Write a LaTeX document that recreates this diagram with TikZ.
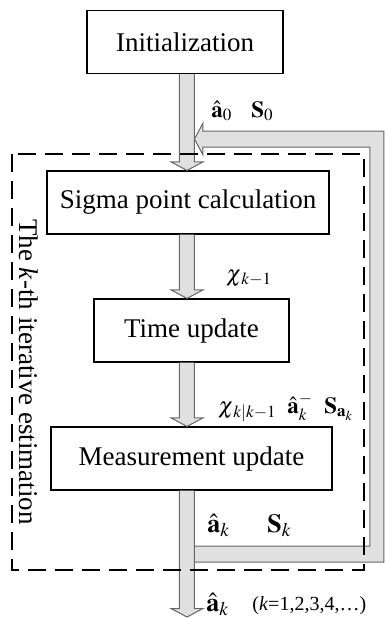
\documentclass[tikz,border=0pt]{standalone}
\usepackage{mathptmx}
\usepackage{fontspec}
\setmainfont{Liberation Serif}
\usetikzlibrary{calc}

% wide grey block arrow, open at its start
\newcommand{\fatarrow}[2]{%
  \path[fat] ($(#1)+(-7.5,0)$) -- ($(#2)+(-7.5,-8.5)$) -- ($(#2)+(-16,-8.5)$)
    -- (#2) -- ($(#2)+(16,-8.5)$) -- ($(#2)+(7.5,-8.5)$) -- ($(#1)+(7.5,0)$);}

\begin{document}
\begin{tikzpicture}[x=0.5pt,y=-0.5pt,
  stepbox/.style={draw,line width=0.6pt,inner sep=0pt,minimum height=31.5pt,font=\fontsize{13.5}{16}\selectfont},
  fat/.style={fill=black!12,draw=black!60,line width=0.5pt},
  lbl/.style={anchor=base west,inner sep=0pt,font=\fontsize{11.5}{14}\selectfont},
  biglbl/.style={lbl,font=\fontsize{13}{15}\selectfont},
  iterbox/.style={draw,dash pattern=on 9pt off 4.5pt,line width=1.2pt}]

\useasboundingbox (0,0) rectangle (385,618);

\node[stepbox,minimum width=98pt] (init) at (185,42) {Initialization};
\node[stepbox,minimum width=141pt] (sigma) at (188,202.5) {Sigma point calculation};
\node[stepbox,minimum width=97.5pt] (tupd) at (191.5,330.5) {Time update};
\node[stepbox,minimum width=140.5pt] (mupd) at (191.5,458.5) {Measurement update};

\coordinate (axis) at (187,0);
\coordinate (a1) at (init.south -| axis);
\coordinate (b1) at (sigma.north -| axis);
\coordinate (a2) at (sigma.south -| axis);
\coordinate (b2) at (tupd.north -| axis);
\coordinate (a3) at (tupd.south -| axis);
\coordinate (b3) at (mupd.north -| axis);
\coordinate (a4) at (mupd.south -| axis);
\coordinate (est) at (187,617);

% feedback band back to the top
\path[fat] (194.5,546) -- (370,546) -- (370,147) -- (203,147) -- (203,155)
  -- (194.5,139) -- (203,123) -- (203,131) -- (384,131) -- (384,562) -- (194.5,562);

\fatarrow{a1}{b1}
\fatarrow{a2}{b2}
\fatarrow{a3}{b3}
\fatarrow{a4}{est}

\node[lbl] (a0) at (211,117) {$\hat{\mathbf{a}}_0$};
\node[lbl] (S0) at (251,117) {$\mathbf{S}_0$};
\node[lbl] (chi1) at (226,281) {$\chi_{\,k-1}$};
\node[lbl] (chi2) at (218,413) {$\chi_{\,k|k-1}$};
\node[lbl] (apri) at (287,413) {$\hat{\mathbf{a}}_k^-$};
\node[lbl] (Spri) at (324,413) {$\mathbf{S}_{\mathbf{a}_k}$};
\node[biglbl] (apost) at (207,532) {$\hat{\mathbf{a}}_k$};
\node[biglbl] (Spost) at (267,532) {$\mathbf{S}_k$};
\node[biglbl] (aout) at (206,611) {$\hat{\mathbf{a}}_k$};
\node[lbl,font=\fontsize{10}{12}\selectfont] (range) at (252,610) {(\textit{k}=1,2,3,4,\ldots)};

\node[font=\fontsize{13.5}{16}\selectfont,rotate=-90,inner sep=0pt] (iter) at (28.5,372) {The \textit{k}-th iterative estimation};

\draw[iterbox] (12,154) rectangle (364,570);
\end{tikzpicture}
\end{document}
